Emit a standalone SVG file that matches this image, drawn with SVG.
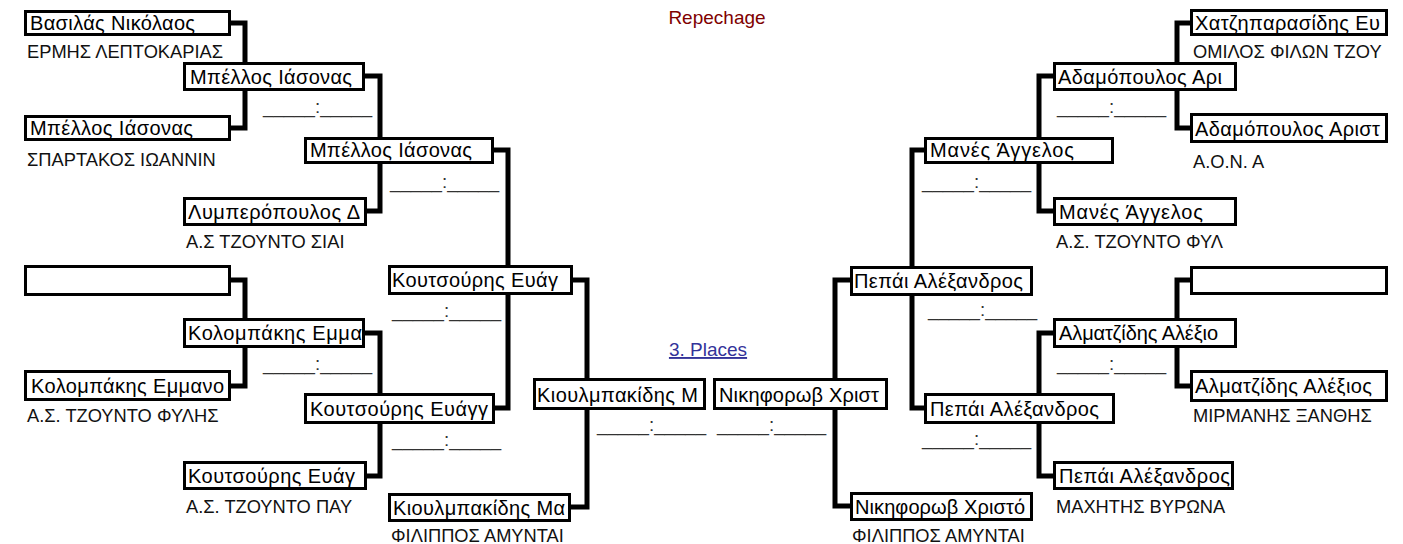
<svg xmlns="http://www.w3.org/2000/svg" width="1403" height="544" viewBox="0 0 1403 544">
<style>
.bg{fill:#fff}
.box{fill:#fff;stroke:#000;stroke-width:3}
.con{fill:none;stroke:#000;stroke-width:5;stroke-linejoin:miter;stroke-linecap:butt}
.nm{font-family:"Liberation Sans",Arial,sans-serif;font-size:20px;fill:#000}
.cl{font-family:"Liberation Sans",Arial,sans-serif;font-size:18.3px;fill:#111}
.sc{font-family:"Liberation Sans",Arial,sans-serif;font-size:18.7px;fill:#333}
.title{font-family:"Liberation Sans",Arial,sans-serif;font-size:19px}
</style>
<rect class="bg" x="0" y="0" width="1403" height="544"/>
<g id="connectors">
<path class="con" d="M229,23 H245 V128 H229"/>
<path class="con" d="M229,280 H245 V386 H229"/>
<path class="con" d="M363,76 H380 V211 H363"/>
<path class="con" d="M363,333 H380 V476 H363"/>
<path class="con" d="M492,150 H508 V408 H492"/>
<path class="con" d="M571,280 H587 V507 H571"/>
<path class="con" d="M1192,23 H1177 V128 H1192"/>
<path class="con" d="M1192,280 H1177 V386 H1192"/>
<path class="con" d="M1055,76 H1039 V211 H1055"/>
<path class="con" d="M1055,333 H1039 V476 H1055"/>
<path class="con" d="M926,150 H912 V408 H926"/>
<path class="con" d="M852,280 H835 V506 H852"/>
</g>
<g id="titles">
<text class="title" x="717" y="24" text-anchor="middle" fill="#800000">Repechage</text>
<text class="title" x="708" y="356" text-anchor="middle" fill="#333399" font-size="20" text-decoration="underline">3. Places</text>
</g>
<!-- left side -->
<g id="L-A1"><rect class="box" x="25.5" y="11.5" width="204" height="23"/><text class="nm" x="30" y="30" textLength="165">Βασιλάς Νικόλαος</text><text class="cl" x="27" y="58">ΕΡΜΗΣ ΛΕΠΤΟΚΑΡΙΑΣ</text></g>
<g id="L-A2"><rect class="box" x="25.5" y="116.5" width="204" height="23"/><text class="nm" x="30" y="135" textLength="163">Μπέλλος Ιάσονας</text><text class="cl" x="27" y="166">ΣΠΑΡΤΑΚΟΣ ΙΩΑΝΝΙΝ</text></g>
<g id="L-A3"><rect class="box" x="25.5" y="266.5" width="204" height="28"/></g>
<g id="L-A4"><rect class="box" x="25.5" y="371.5" width="204" height="28"/><text class="nm" x="31" y="393" textLength="193">Κολομπάκης Εμμανο</text><text class="cl" x="27" y="422">Α.Σ. ΤΖΟΥΝΤΟ ΦΥΛΗΣ</text></g>
<g id="L-B1"><rect class="box" x="184.5" y="63.5" width="179" height="26"/><text class="nm" x="190" y="84" textLength="162">Μπέλλος Ιάσονας</text><text class="sc" x="263" y="113">_____:_____</text></g>
<g id="L-B2"><rect class="box" x="184.5" y="198.5" width="181" height="26"/><text class="nm" x="188" y="219" textLength="172">Λυμπερόπουλος Δ</text><text class="cl" x="186" y="248">Α.Σ ΤΖΟΥΝΤΟ ΣΙΑΙ</text></g>
<g id="L-B3"><rect class="box" x="184.5" y="319.5" width="179" height="27"/><text class="nm" x="188" y="340" textLength="174">Κολομπάκης Εμμα</text><text class="sc" x="263" y="370">_____:_____</text></g>
<g id="L-B4"><rect class="box" x="184.5" y="462.5" width="181" height="26"/><text class="nm" x="188" y="483" textLength="167">Κουτσούρης Ευάγ</text><text class="cl" x="186" y="513">Α.Σ. ΤΖΟΥΝΤΟ ΠΑΥ</text></g>
<g id="L-C1"><rect class="box" x="305.5" y="138.5" width="187" height="24"/><text class="nm" x="310" y="157" textLength="162">Μπέλλος Ιάσονας</text><text class="sc" x="390" y="188">_____:_____</text></g>
<g id="L-C2"><rect class="box" x="305.5" y="394.5" width="188" height="28"/><text class="nm" x="310" y="416" textLength="178">Κουτσούρης Ευάγγ</text><text class="sc" x="392" y="446">_____:_____</text></g>
<g id="L-D1"><rect class="box" x="389.5" y="266.5" width="182" height="27"/><text class="nm" x="392" y="287" textLength="166">Κουτσούρης Ευάγ</text><text class="sc" x="392" y="317">_____:_____</text></g>
<g id="L-D2"><rect class="box" x="389.5" y="494.5" width="180" height="26"/><text class="nm" x="393" y="515" textLength="172">Κιουλμπακίδης Μα</text><text class="cl" x="391" y="542">ΦΙΛΙΠΠΟΣ ΑΜΥΝΤΑΙ</text></g>
<g id="L-E"><rect class="box" x="534.5" y="379.5" width="170" height="29"/><text class="nm" x="537" y="402" textLength="161">Κιουλμπακίδης Μ</text><text class="sc" x="597" y="431">_____:_____</text></g>
<!-- right side -->
<g id="R-E"><rect class="box" x="714.5" y="379.5" width="172" height="29"/><text class="nm" x="719" y="402" textLength="160">Νικηφορωβ Χριστ</text><text class="sc" x="717" y="431">_____:_____</text></g>
<g id="R-D1"><rect class="box" x="851.5" y="267.5" width="180" height="27"/><text class="nm" x="854" y="288" textLength="169">Πεπάι Αλέξανδρος</text><text class="sc" x="928" y="316">_____:_____</text></g>
<g id="R-D2"><rect class="box" x="851.5" y="493.5" width="180" height="26"/><text class="nm" x="855" y="514" textLength="170">Νικηφορωβ Χριστό</text><text class="cl" x="852" y="542">ΦΙΛΙΠΠΟΣ ΑΜΥΝΤΑΙ</text></g>
<g id="R-C1"><rect class="box" x="925.5" y="138.5" width="187" height="24"/><text class="nm" x="930" y="157" textLength="144">Μανές Άγγελος</text><text class="sc" x="922" y="188">_____:_____</text></g>
<g id="R-C2"><rect class="box" x="925.5" y="394.5" width="188" height="28"/><text class="nm" x="930" y="416" textLength="169">Πεπάι Αλέξανδρος</text><text class="sc" x="922" y="445">_____:_____</text></g>
<g id="R-B1"><rect class="box" x="1054.5" y="63.5" width="181" height="26"/><text class="nm" x="1058" y="84" textLength="164">Αδαμόπουλος Αρι</text><text class="sc" x="1057" y="113">_____:_____</text></g>
<g id="R-B2"><rect class="box" x="1054.5" y="198.5" width="181" height="26"/><text class="nm" x="1059" y="219" textLength="144">Μανές Άγγελος</text><text class="cl" x="1056" y="248">Α.Σ. ΤΖΟΥΝΤΟ ΦΥΛ</text></g>
<g id="R-B3"><rect class="box" x="1054.5" y="319.5" width="181" height="27"/><text class="nm" x="1059" y="340" textLength="159">Αλματζίδης Αλέξιο</text><text class="sc" x="1057" y="370">_____:_____</text></g>
<g id="R-B4"><rect class="box" x="1054.5" y="462.5" width="178" height="26"/><text class="nm" x="1059" y="483" textLength="171">Πεπάι Αλέξανδρος</text><text class="cl" x="1056" y="513">ΜΑΧΗΤΗΣ ΒΥΡΩΝΑ</text></g>
<g id="R-A1"><rect class="box" x="1191.5" y="10.5" width="195" height="24"/><text class="nm" x="1195" y="30" textLength="185">Χατζηπαρασίδης Ευ</text><text class="cl" x="1193" y="58">ΟΜΙΛΟΣ ΦΙΛΩΝ ΤΖΟΥ</text></g>
<g id="R-A2"><rect class="box" x="1191.5" y="114.5" width="195" height="27"/><text class="nm" x="1195" y="136" textLength="185">Αδαμόπουλος Αριστ</text><text class="cl" x="1193" y="168">Α.Ο.Ν. Α</text></g>
<g id="R-A3"><rect class="box" x="1191.5" y="267.5" width="195" height="26"/></g>
<g id="R-A4"><rect class="box" x="1191.5" y="371.5" width="195" height="29"/><text class="nm" x="1195" y="393" textLength="177">Αλματζίδης Αλέξιος</text><text class="cl" x="1193" y="422">ΜΙΡΜΑΝΗΣ ΞΑΝΘΗΣ</text></g>
</svg>
